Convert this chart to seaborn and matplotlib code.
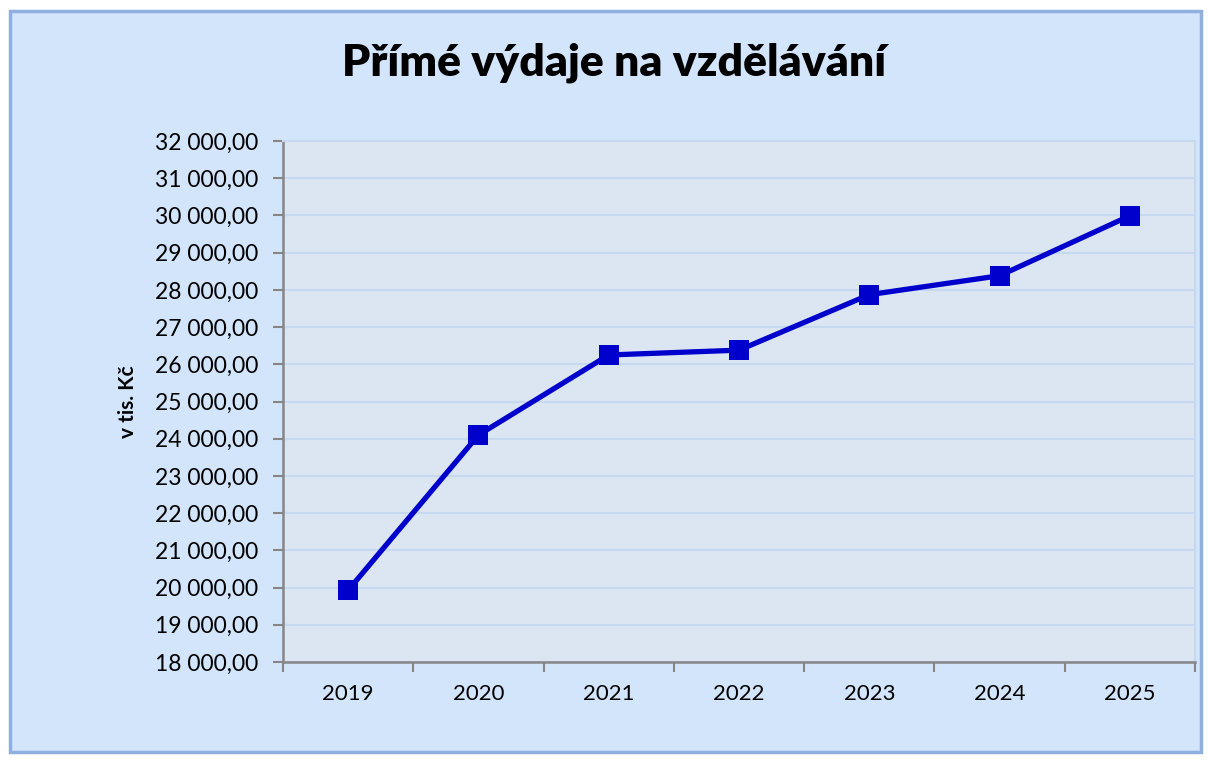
import matplotlib
matplotlib.use("Agg")
import matplotlib.pyplot as plt
import matplotlib.ticker as mticker
from matplotlib.patches import Rectangle
import pandas as pd
import seaborn as sns

# ---------------------
# Data
# ---------------------
years = ["2019", "2020", "2021", "2022", "2023", "2024", "2025"]
expenses = [19930, 24100, 26250, 26380, 27870, 28380, 29990]

title = "Přímé výdaje na vzdělávání"
ylabel = "v tis. Kč"
y_ticks = list(range(18000, 32001, 1000))

df = pd.DataFrame({"rok": years, "vydaje": expenses})

sns.set_style("white")
plt.rcParams['font.family'] = ['Lato', 'DejaVu Sans']
plt.rcParams['text.color'] = 'black'
plt.rcParams['xtick.color'] = 'black'
plt.rcParams['ytick.color'] = 'black'
plt.rcParams['axes.labelcolor'] = 'black'

fig = plt.figure(figsize=(12.08, 7.6), dpi=100)
fig.patch.set_facecolor("white")

# chart frame with light blue fill, drawn behind the axes
frame = Rectangle((0.008, 0.01), 0.986, 0.975, transform=fig.transFigure,
                  facecolor="#D3E5FB", edgecolor="#8FB0DE", linewidth=2.5, zorder=-10)
fig.patches.append(frame)

ax = fig.add_axes([0.2343, 0.1289, 0.7549, 0.6856])
ax.set_zorder(1)
ax.set_facecolor("#DCE6F2")

sns.lineplot(data=df, x="rok", y="vydaje", ax=ax, color="#0000CC",
             linewidth=3.8, marker="s", markersize=15, markeredgewidth=0,
             sort=False)

ax.set_xlim(-0.5, len(years) - 0.5)
ax.set_ylim(y_ticks[0], y_ticks[-1])
ax.set_yticks(y_ticks)
ax.yaxis.set_major_formatter(mticker.FuncFormatter(
    lambda v, p: f"{v:,.2f}".replace(",", " ").replace(".", ",")))

# labels centred on categories, tick marks on the boundaries
ax.set_xticks(range(len(years)))
ax.set_xticklabels(years)
ax.set_xticks([i - 0.5 for i in range(len(years) + 1)], minor=True)
ax.tick_params(axis="x", which="major", length=0, pad=16, labelsize=16)
ax.tick_params(axis="x", which="minor", length=7, width=1.5, color="#868686",
               direction="out", bottom=True)
ax.tick_params(axis="y", length=7, width=1.5, color="#868686", direction="out",
               labelsize=16.5, pad=11, left=True)

ax.grid(axis="y", color="#C6D9F1", linewidth=1.5)
ax.set_axisbelow(True)

for side in ["left", "bottom"]:
    ax.spines[side].set_color("#868686")
    ax.spines[side].set_linewidth(1.8)
for side in ["top", "right"]:
    ax.spines[side].set_color("#C6D9F1")
    ax.spines[side].set_linewidth(1.5)

ax.set_xlabel("")
ax.set_ylabel(ylabel, fontsize=15, fontweight="bold", labelpad=12)

fig.text(0.508, 0.918, title, ha="center", va="center",
         fontsize=32, fontweight="heavy")

fig.savefig("out.png", dpi=100, facecolor=fig.get_facecolor())
